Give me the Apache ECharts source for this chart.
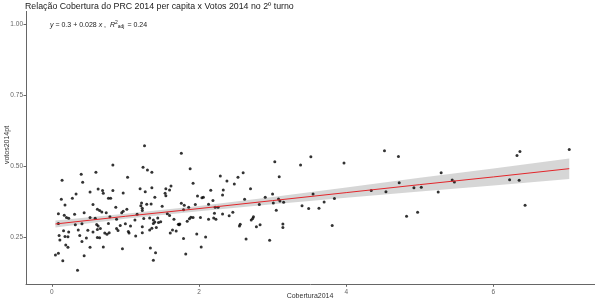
<!DOCTYPE html>
<html>
<head>
<meta charset="utf-8">
<script src="https://cdn.jsdelivr.net/npm/echarts@6/dist/echarts.min.js"></script>
<style>html,body{margin:0;padding:0;background:#fff}#c{width:595px;height:300px}</style>
</head>
<body>
<div id="c"></div>
<script>
// [Cobertura2014, votos2014pt]
const points = [
[0.83,0.505],[0.60,0.479],[0.40,0.472],[0.14,0.451],[0.42,0.444],[0.63,0.421],[0.69,0.415],[0.70,0.406],[0.52,0.410],[0.83,0.415],[0.33,0.403],[0.77,0.388],[0.80,0.388],[0.13,0.385],[0.28,0.388],[0.18,0.365],[0.56,0.366],[0.62,0.350],[0.65,0.345],[0.68,0.340],[0.74,0.337],[0.09,0.334],[0.31,0.332],[0.44,0.337],[0.17,0.329],[0.20,0.321],[0.23,0.318],[0.52,0.321],[0.59,0.318],[0.79,0.323],[0.32,0.295],[0.41,0.299],[0.61,0.296],[0.63,0.291],[0.77,0.300],[0.16,0.274],[0.23,0.270],[0.36,0.277],[0.49,0.276],[0.56,0.270],[0.62,0.279],[0.66,0.282],[0.72,0.266],[0.75,0.262],[0.78,0.267],[0.10,0.258],[0.18,0.254],[0.22,0.253],[0.38,0.258],[0.47,0.249],[0.62,0.251],[0.65,0.250],[0.11,0.242],[0.41,0.237],[0.19,0.224],[0.22,0.216],[0.52,0.216],[0.70,0.217],[0.05,0.189],[0.09,0.195],[0.44,0.187],[0.15,0.169],[0.35,0.136],[0.09,0.300],
[1.26,0.572],[1.24,0.497],[1.30,0.487],[1.36,0.479],[1.03,0.462],[1.62,0.431],[1.60,0.417],[1.55,0.422],[1.54,0.406],[1.55,0.397],[1.36,0.425],[1.20,0.422],[1.27,0.411],[0.97,0.407],[1.40,0.392],[1.22,0.372],[1.21,0.362],[1.23,0.353],[1.23,0.345],[1.29,0.367],[1.35,0.368],[1.50,0.360],[0.87,0.357],[1.02,0.350],[0.97,0.343],[0.95,0.337],[1.16,0.332],[1.57,0.334],[1.60,0.328],[0.88,0.315],[1.25,0.317],[1.33,0.319],[1.38,0.312],[1.44,0.319],[1.40,0.305],[1.45,0.303],[1.38,0.300],[1.48,0.306],[1.66,0.315],[1.72,0.297],[1.13,0.312],[1.00,0.299],[0.93,0.293],[1.07,0.291],[1.23,0.288],[1.36,0.283],[1.42,0.286],[0.88,0.282],[0.90,0.275],[1.04,0.272],[1.05,0.266],[1.33,0.277],[1.23,0.267],[1.64,0.277],[1.61,0.266],[1.14,0.256],[0.96,0.211],[1.34,0.214],[1.41,0.197],[1.38,0.171],
[1.76,0.546],[1.88,0.492],[1.92,0.441],[2.29,0.466],[2.60,0.478],[2.38,0.449],[2.48,0.438],[2.53,0.462],[2.16,0.416],[2.33,0.417],[2.32,0.400],[1.98,0.396],[2.04,0.390],[2.06,0.392],[2.19,0.380],[2.13,0.367],[1.76,0.371],[1.80,0.364],[1.86,0.357],[1.95,0.366],[2.22,0.357],[2.26,0.357],[2.62,0.385],[1.79,0.348],[2.21,0.336],[2.32,0.333],[2.46,0.339],[2.41,0.327],[1.89,0.322],[1.87,0.316],[1.84,0.308],[1.92,0.321],[2.02,0.321],[2.13,0.315],[2.20,0.319],[2.23,0.315],[1.74,0.298],[1.73,0.295],[2.56,0.297],[2.55,0.291],[1.69,0.273],[1.97,0.263],[1.79,0.247],[2.09,0.252],[2.03,0.217],[1.82,0.193],
[3.52,0.534],[3.03,0.516],[3.38,0.505],[3.09,0.464],[2.70,0.422],[3.00,0.403],[2.90,0.392],[3.08,0.386],[3.10,0.379],[3.15,0.374],[3.01,0.372],[2.82,0.366],[3.55,0.403],[3.40,0.362],[3.49,0.352],[3.63,0.353],[3.70,0.375],[3.84,0.387],[3.05,0.346],[2.74,0.323],[2.73,0.317],[2.71,0.312],[2.83,0.295],[2.78,0.288],[3.14,0.298],[3.14,0.286],[3.81,0.293],[2.64,0.245],[2.96,0.241],
[4.52,0.555],[4.71,0.535],[3.97,0.512],[4.72,0.443],[4.34,0.415],[4.54,0.411],[4.92,0.425],[5.02,0.427],[4.82,0.325],[4.97,0.339],[6.36,0.552],[6.32,0.538],[7.03,0.559],[5.29,0.478],[5.44,0.452],[5.47,0.445],[5.25,0.410],[6.22,0.453],[6.35,0.451],[6.43,0.364]
];

// fitted line and 95% band
const fitX    = [0.05, 1, 2, 3, 4, 5, 6, 7.03];
const fitY    = [0.298, 0.325, 0.352, 0.380, 0.408, 0.436, 0.463, 0.492];
const bandLow = [0.286, 0.316, 0.343, 0.367, 0.390, 0.412, 0.433, 0.456];
const bandHigh= [0.310, 0.334, 0.361, 0.393, 0.426, 0.460, 0.493, 0.528];

const xTicks = [0, 2, 4, 6];
const yTicks = [0.25, 0.50, 0.75, 1.00];

const titleText = 'Relação Cobertura do PRC 2014 per capita x Votos 2014 no 2º turno';
const xName = 'Cobertura2014';
const yName = 'votos2014pt';

const chart = echarts.init(document.getElementById('c'), null, {renderer: 'canvas'});
const FONT = 'Liberation Sans, Arial, sans-serif';

chart.setOption({
  animation: false,
  backgroundColor: '#ffffff',
  title: {
    text: titleText, left: 25, top: 2, padding: 0,
    textStyle: {fontFamily: FONT, fontSize: 8.8, fontWeight: 'normal', color: '#1a1a1a'}
  },
  grid: {left: 26, right: 0, top: 11.4, bottom: 15.7, containLabel: false, outerBoundsMode: 'none'},
  xAxis: {
    type: 'value', min: -0.35, max: 7.38,
    axisLine: {show: true, onZero: false, lineStyle: {color: '#666', width: 1}},
    axisTick: {show: true, length: 2.5, customValues: xTicks, lineStyle: {color: '#666'}},
    axisLabel: {customValues: xTicks, fontFamily: FONT, fontSize: 6.5, color: '#666', margin: 4, formatter: v => String(v)},
    splitLine: {show: false}
  },
  yAxis: {
    type: 'value', min: 0.0865, max: 1.0435,
    axisLine: {show: true, onZero: false, lineStyle: {color: '#666', width: 1}},
    axisTick: {show: true, length: 2.5, customValues: yTicks, lineStyle: {color: '#666'}},
    axisLabel: {customValues: yTicks, fontFamily: FONT, fontSize: 6.5, color: '#666', margin: 3, formatter: v => v.toFixed(2)},
    splitLine: {show: false}
  },
  graphic: [
    {type: 'text', left: 50, top: 20, style: {
      text: '{i|y} = 0.3 + 0.028 {i|x} ,  {i|R}{sup|2}{sub|adj} = 0.24',
      fontFamily: FONT, fontSize: 7, fill: '#1a1a1a',
      rich: {
        i: {fontStyle: 'italic', fontSize: 7, fontFamily: FONT},
        sup: {fontSize: 5, fontFamily: FONT, padding: [0, 0, 5, 0]},
        sub: {fontSize: 5, fontFamily: FONT, padding: [4, 1, 0, 0]}
      }
    }},
    {type: 'text', x: 310, y: 296, style: {
      text: xName, fontFamily: FONT, fontSize: 7, fill: '#333', align: 'center', verticalAlign: 'middle'
    }},
    {type: 'text', x: 7, y: 145, rotation: Math.PI / 2, style: {
      text: yName, fontFamily: FONT, fontSize: 7, fill: '#333', align: 'center', verticalAlign: 'middle'
    }}
  ],
  series: [
    {
      type: 'custom', silent: true, z: 1,
      data: [0],
      renderItem: function (params, api) {
        const pts = [];
        for (let i = 0; i < fitX.length; i++) pts.push(api.coord([fitX[i], bandHigh[i]]));
        for (let i = fitX.length - 1; i >= 0; i--) pts.push(api.coord([fitX[i], bandLow[i]]));
        return {type: 'polygon', shape: {points: pts}, style: {fill: 'rgba(153,153,153,0.4)', stroke: null}};
      }
    },
    {
      type: 'scatter', data: points, symbol: 'circle', symbolSize: 3,
      itemStyle: {color: '#000'}, z: 2
    },
    {
      type: 'line', data: fitX.map((x, i) => [x, fitY[i]]), symbol: 'none',
      lineStyle: {color: '#e3262b', width: 1}, z: 3
    }
  ]
});
</script>
</body>
</html>
